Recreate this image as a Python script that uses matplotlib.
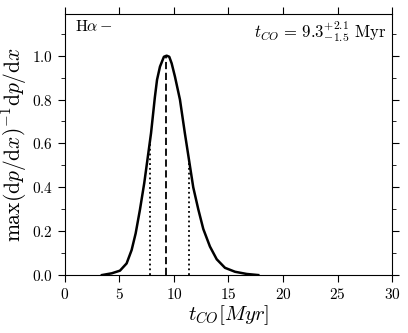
import numpy as np
import matplotlib
matplotlib.use('Agg')
import matplotlib.pyplot as plt
from matplotlib.ticker import MultipleLocator

plt.rcParams['font.family'] = 'serif'
plt.rcParams['font.serif'] = ['cmr10']
plt.rcParams['mathtext.fontset'] = 'cm'
plt.rcParams['axes.formatter.use_mathtext'] = True

# PDF
t_co = [3.4, 4.3, 5.05, 5.66, 6.12, 6.49, 6.88, 7.28, 7.65, 7.9, 8.1, 8.25,
        8.45, 8.72, 9.08, 9.33, 9.57, 9.79, 10.09, 10.55, 11.0, 11.38, 11.77,
        12.23, 12.69, 13.3, 13.92, 14.68, 15.6, 16.67, 17.73]
pdf = [0.0, 0.008, 0.02, 0.053, 0.114, 0.19, 0.297, 0.42, 0.555, 0.647, 0.74,
       0.81, 0.89, 0.95, 0.995, 1.0, 0.995, 0.965, 0.905, 0.80, 0.647, 0.525,
       0.40, 0.30, 0.21, 0.13, 0.072, 0.033, 0.015, 0.005, 0.0]

t_med = 9.3
err_lo = 1.5
err_hi = 2.1

fig = plt.figure(figsize=(4.08, 3.33), dpi=100)
ax = fig.add_axes([0.159, 0.174, 0.802, 0.784])

ax.plot(t_co, pdf, c='k', lw=1.8)

# median and percentiles
for t, ls in [(t_med, (0, (4, 2))), (t_med - err_lo, ':'), (t_med + err_hi, ':')]:
    ax.plot([t, t], [0, np.interp(t, t_co, pdf)], c='k', ls=ls, lw=1.3)

ax.set_xlim(0, 30)
ax.set_ylim(0, 1.19)
ax.xaxis.set_major_locator(MultipleLocator(5))
ax.yaxis.set_major_locator(MultipleLocator(0.2))
ax.yaxis.set_minor_locator(MultipleLocator(0.1))
ax.tick_params(which='both', direction='out', top=True, right=True, labelsize=11)
ax.tick_params(which='major', length=5)
ax.tick_params(which='minor', length=3)

ax.set_xlabel(r'$t_{CO}[Myr]$', fontsize=15, labelpad=1)
ax.set_ylabel(r'$\max(\mathrm{d}p/\mathrm{d}x)^{-1}\mathrm{d}p/\mathrm{d}x$', fontsize=15.5, labelpad=2)

ax.text(0.03, 0.98, r'H$\alpha-$', transform=ax.transAxes, fontsize=11.5, va='top', ha='left')
ax.text(0.985, 0.98, r'$t_{CO}\,=\,9.3^{+2.1}_{-1.5}$ Myr', transform=ax.transAxes,
        fontsize=12, va='top', ha='right')

fig.savefig('out.png', dpi=100)
